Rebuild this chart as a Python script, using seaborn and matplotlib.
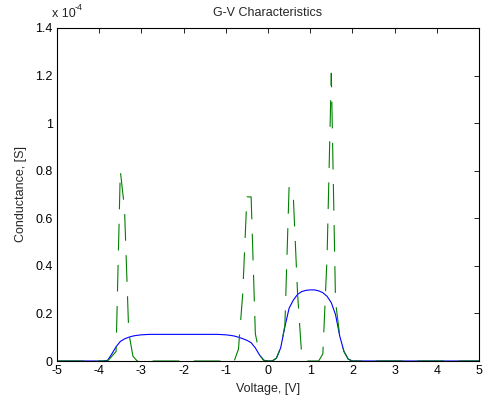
import numpy as np
import pandas as pd
import matplotlib
matplotlib.use("Agg")
import matplotlib.pyplot as plt
import seaborn as sns

# ---- data (conductance in units of 1e-4 S) ----
voltage = np.linspace(-5, 5, 101)  # voltage sweep grid, 0.1 V step

g_smooth = [
    0, 0, 0, 0, 0, 0, 0, 0, 0, 0,
    0, 0, 0.003, 0.03, 0.06, 0.082, 0.093, 0.100, 0.105, 0.108,
    0.110, 0.111, 0.112, 0.112, 0.112, 0.112, 0.112, 0.112, 0.112, 0.112,
    0.112, 0.112, 0.112, 0.112, 0.112, 0.112, 0.112, 0.112, 0.112, 0.111,
    0.110, 0.108, 0.105, 0.100, 0.094, 0.087, 0.077, 0.055, 0.025, 0.003,
    0, 0, 0.012, 0.055, 0.144, 0.222, 0.256, 0.280, 0.292, 0.297,
    0.299, 0.299, 0.295, 0.287, 0.272, 0.245, 0.195, 0.105, 0.040, 0.008,
    0, 0, 0, 0, 0, 0, 0, 0, 0, 0,
    0, 0, 0, 0, 0, 0, 0, 0, 0, 0,
    0, 0, 0, 0, 0, 0, 0, 0, 0, 0,
    0,
]

g_spiky = [
    0, 0, 0, 0, 0, 0, 0, 0, 0, 0,
    0, 0, 0, 0.02, 0.04, 0.80, 0.64, 0.12, 0.02, 0,
    0, 0, 0, 0, 0, 0, 0, 0, 0, 0,
    0, 0, 0, 0, 0, 0, 0, 0, 0, 0,
    0, 0, 0, 0.05, 0.28, 0.69, 0.69, 0.115, 0.025, 0.003,
    0, 0, 0.012, 0.055, 0.15, 0.733, 0.69, 0.285, 0.02, 0,
    0, 0, 0, 0.03, 0.44, 1.21, 0.25, 0.105, 0.04, 0.008,
    0, 0, 0, 0, 0, 0, 0, 0, 0, 0,
    0, 0, 0, 0, 0, 0, 0, 0, 0, 0,
    0, 0, 0, 0, 0, 0, 0, 0, 0, 0,
    0,
]

x_ticks = [-5, -4, -3, -2, -1, 0, 1, 2, 3, 4, 5]
y_ticks = [0, 0.2, 0.4, 0.6, 0.8, 1.0, 1.2, 1.4]
y_tick_labels = ["0", "0.2", "0.4", "0.6", "0.8", "1", "1.2", "1.4"]

df = pd.DataFrame({"V": voltage, "smooth": g_smooth, "spiky": g_spiky})

# ---- style ----
sns.set_style("white")
plt.rcParams["font.family"] = ["Liberation Sans", "DejaVu Sans"]
plt.rcParams["axes.unicode_minus"] = False

W, H = 493, 408
fig = plt.figure(figsize=(W / 100, H / 100), dpi=100)
fig.patch.set_facecolor("white")
ax = fig.add_axes([57 / W, 1 - 361 / H, (479 - 57) / W, (361 - 28) / H])

sns.lineplot(data=df, x="V", y="smooth", color="#0000ff", linewidth=0.8, ax=ax)
sns.lineplot(data=df, x="V", y="spiky", color="#008000", linewidth=0.8,
             linestyle=(0, (24, 13)), ax=ax)

ax.set_xlim(-5, 5)
ax.set_ylim(0, 1.4)
ax.set_xticks(x_ticks)
ax.set_xticklabels([str(t) for t in x_ticks])
ax.set_yticks(y_ticks)
ax.set_yticklabels(y_tick_labels)

for s in ax.spines.values():
    s.set_visible(True)
    s.set_color("black")
    s.set_linewidth(0.8)

ax.tick_params(direction="in", length=3.5, width=0.6, top=True, right=True,
               labelsize=9, pad=3, colors="black")

ax.set_xlabel("Voltage, [V]", fontsize=9)
ax.set_ylabel("Conductance, [S]", fontsize=9)
ax.xaxis.set_label_coords(0.5, (361 - 389) / 333)
ax.xaxis.label.set_va("center")
ax.yaxis.set_label_coords((21 - 57) / 422, 0.5)
ax.yaxis.label.set_va("center")

fig.text(268 / W, 1 - 13 / H, "G-V Characteristics", ha="center", va="center",
         fontsize=9)
fig.text(52 / W, 1 - 14 / H, "x 10", ha="left", va="center", fontsize=9)
fig.text(74.5 / W, 1 - 8 / H, "-4", ha="left", va="center", fontsize=6.5)

fig.savefig("out.png", dpi=100)
